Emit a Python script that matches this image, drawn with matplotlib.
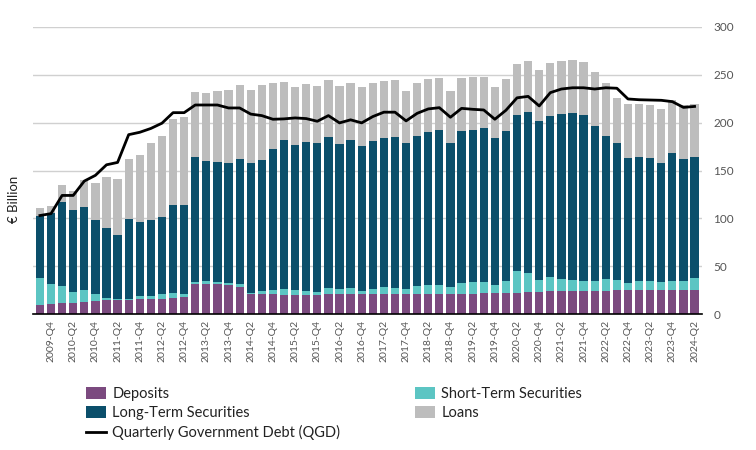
import matplotlib
matplotlib.use("Agg")
import matplotlib.pyplot as plt
import numpy as np
from matplotlib.patches import Patch
from matplotlib.lines import Line2D

plt.rcParams['font.family'] = ['Lato', 'DejaVu Sans']

years = list(range(2009, 2025))
quarters = []
for y in years:
    for q in range(1, 5):
        quarters.append(f"{y}-Q{q}")
quarters = quarters[quarters.index("2009-Q3"):quarters.index("2024-Q2") + 1]

dep_top = [10, 10.4, 11.5, 11.5, 12.5, 13.5, 14.5, 15, 15, 15.5,
           15.6, 15.6, 16.6, 17.7, 31.2, 31.2, 31.2, 30.5, 28, 20.8,
           20.8, 20.5, 20, 20, 20, 20, 20.5, 20.8, 20.8, 20.5,
           20.8, 20.8, 20.8, 20.8, 20.8, 20.8, 20.8, 20.8, 20.8, 21.2,
           21.9, 21.9, 22.2, 22.5, 22.9, 23.2, 23.9, 24.3, 24.3, 24.3,
           24.6, 24.6, 25, 25, 25.3, 25.3, 25.3, 25.3, 25.3, 25.3]
st_top = [38, 31, 29.5, 23, 25, 21, 17, 15.8, 16, 19.4,
          19.4, 20.5, 22, 20.5, 34, 35, 33.6, 32, 31, 22.5,
          24.6, 25.3, 26, 25.7, 24.3, 23.2, 27, 26, 27.4, 24.6,
          26.7, 28.4, 27.4, 26, 29.5, 30.9, 30.9, 28.4, 32.3, 33.6,
          33.6, 30.9, 34.3, 45.4, 43.4, 35.4, 38.8, 36.4, 35.7, 34.3,
          34.7, 36.4, 35.4, 32, 35, 34.3, 33.3, 34.3, 34.3, 37.8]
lt_top = [103, 106, 117, 109, 112, 98.5, 89.5, 83, 99.5, 96,
          98, 101.6, 113.8, 114.5, 164.4, 160, 159.2, 158, 162, 157.5,
          161.3, 172.4, 182, 177, 180, 178.6, 185.2, 178, 182, 176,
          181.4, 184.5, 185.2, 179, 186.6, 190.8, 192.2, 178.6, 191.5, 192.2,
          194.2, 183.5, 191.8, 207.8, 211.6, 202.2, 207, 209.5, 210.2, 208,
          196.7, 186.6, 179, 163.4, 164.4, 162.7, 157.8, 168.2, 162.3, 164.4]
loan_top = [111, 113, 135, 129, 140, 137, 143.5, 141, 162, 166.5,
            179, 186.6, 203.6, 206, 232, 231.4, 232.7, 233.8, 239.3, 234.5,
            239.3, 242, 242.8, 237, 240, 238.3, 244.5, 238.3, 241.8, 237,
            241.8, 243.8, 244.5, 232.7, 241.4, 245.6, 246.6, 233, 246.6, 247.3,
            248, 237, 245.2, 261.5, 264.3, 255, 262.2, 264.6, 265, 263.6,
            252.5, 242, 225.5, 219.6, 220, 218.5, 214.4, 223.7, 219, 219.6]
qgd = [103, 105, 124, 124, 139, 145, 156, 158.5, 187.5, 190,
       194, 199.5, 210.5, 210.5, 218.5, 218.5, 218.5, 215.4, 215.4, 209,
       207.4, 203.6, 204, 205, 204.3, 201.5, 207.4, 199.8, 203, 199.8,
       206.4, 211, 211, 201.9, 209.8, 214.4, 215.7, 205.7, 215, 214,
       213.3, 203.6, 213, 226, 227.5, 217.5, 231.4, 235.2, 236.5, 236.5,
       235.2, 236.5, 236, 224.8, 224, 223.7, 223.4, 222, 216, 217]

# component values derived from stacked heights
deposits = np.array(dep_top)
short_term = np.array(st_top) - np.array(dep_top)
long_term = np.array(lt_top) - np.array(st_top)
loans = np.array(loan_top) - np.array(lt_top)

c_dep = '#7b4a7f'
c_st = '#5cc5c3'
c_lt = '#0b4f6b'
c_loan = '#bdbdbd'

fig = plt.figure(figsize=(7.56, 4.5), dpi=100)
ax = fig.add_axes([0.044, 0.302, 0.885, 0.638])

x = np.arange(len(quarters))
w = 0.74
ax.bar(x, deposits, w, color=c_dep, zorder=3)
ax.bar(x, short_term, w, bottom=deposits, color=c_st, zorder=3)
ax.bar(x, long_term, w, bottom=deposits + short_term, color=c_lt, zorder=3)
ax.bar(x, loans, w, bottom=deposits + short_term + long_term, color=c_loan, zorder=3)
ax.plot(x, qgd, color='black', lw=2, zorder=4)

ax.set_ylim(0, 300)
ax.set_xlim(-0.6, 59.7)
ax.set_yticks(np.arange(0, 301, 50))
ax.yaxis.tick_right()
ax.tick_params(axis='y', length=0, labelsize=8.5, labelcolor='#555555', pad=8)
ax.grid(axis='y', color='#d0d0d0', lw=1, zorder=0)
ax.set_xticks(x[1::2])
ax.set_xticklabels(quarters[1::2], rotation=90, fontsize=7.5, color='#555555')
ax.tick_params(axis='x', length=0, pad=4)
for s in ['top', 'right', 'left']:
    ax.spines[s].set_visible(False)
ax.spines['bottom'].set_color('black')
ax.spines['bottom'].set_linewidth(1.2)
ax.spines['bottom'].set_zorder(5)

fig.text(0.018, 0.556, '€ Billion', rotation=90, ha='center', va='center',
         fontsize=9.5, color='#222222')

h_dep = Patch(facecolor=c_dep)
h_st = Patch(facecolor=c_st)
h_lt = Patch(facecolor=c_lt)
h_loan = Patch(facecolor=c_loan)
h_qgd = Line2D([], [], color='black', lw=2)

kw = dict(frameon=False, fontsize=10.5, handlelength=1.4, handleheight=0.8,
          handletextpad=0.4, labelspacing=0.35, borderaxespad=0, borderpad=0)
leg1 = fig.legend([h_dep, h_lt, h_qgd],
                  ['Deposits', 'Long-Term Securities', 'Quarterly Government Debt (QGD)'],
                  loc='upper left', bbox_to_anchor=(86 / 756, 1 - 387 / 450), **kw)
leg2 = fig.legend([h_st, h_loan], ['Short-Term Securities', 'Loans'],
                  loc='upper left', bbox_to_anchor=(415 / 756, 1 - 387 / 450), **kw)
for lg in (leg1, leg2):
    for t in lg.get_texts():
        t.set_color('#222222')

fig.savefig('out.png', dpi=100)
